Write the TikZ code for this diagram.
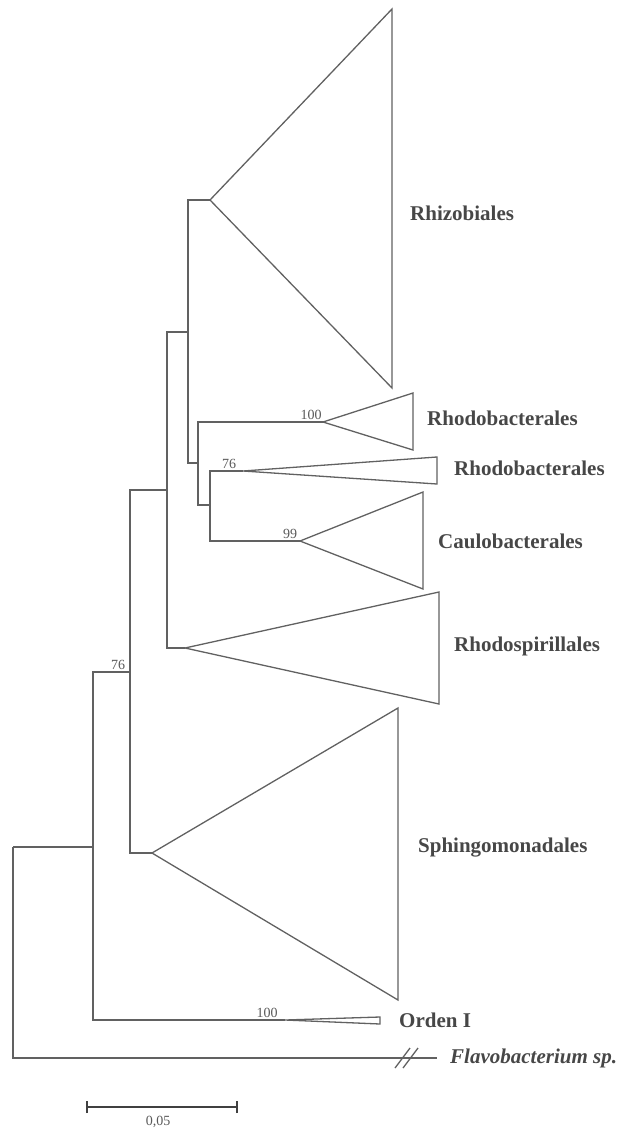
\documentclass[tikz,border=0pt]{standalone}
\usepackage{fontspec}
\setmainfont{Liberation Serif}
\begin{document}
\begin{tikzpicture}[x=1pt,y=-1pt,
  branch/.style={draw=black!62,line width=1.3pt},
  clade/.style={draw=black!62,line width=1.3pt,line join=miter},
  taxon/.style={anchor=west,inner sep=0pt,text=black!72,font=\fontsize{21}{23}\selectfont\bfseries},
  boot/.style={anchor=south,inner sep=1pt,text=black!65,font=\fontsize{14}{15}\selectfont}]
\useasboundingbox (0,0) rectangle (621,1129);
% internal nodes
\coordinate (r)  at (13,847);
\coordinate (nF) at (93,847);
\coordinate (nE) at (130,672);
\coordinate (nC) at (167,490);
\coordinate (nA) at (188,332);
\coordinate (nB) at (198,463);
\coordinate (nD) at (210,505);
% clade apices
\coordinate (aRhiz) at (210,200);
\coordinate (aRb1)  at (323,422);
\coordinate (aRb2)  at (243,471);
\coordinate (aCau)  at (300,541);
\coordinate (aRsp)  at (185,648);
\coordinate (aSph)  at (152,853);
\coordinate (aOrd)  at (285,1020);
\coordinate (fEnd)  at (437,1058);
% branches
\draw[branch] (r) |- (nF);
\draw[branch] (r) |- (fEnd);
\draw[branch] (nF) |- (nE);
\draw[branch] (nF) |- (aOrd);
\draw[branch] (nE) |- (nC);
\draw[branch] (nE) |- (aSph);
\draw[branch] (nC) |- (nA);
\draw[branch] (nC) |- (aRsp);
\draw[branch] (nA) |- (aRhiz);
\draw[branch] (nA) |- (nB);
\draw[branch] (nB) |- (aRb1);
\draw[branch] (nB) |- (nD);
\draw[branch] (nD) |- (aRb2);
\draw[branch] (nD) |- (aCau);
% collapsed clades
\draw[clade] (aRhiz) -- (392,9) -- (392,388) -- cycle;
\draw[clade] (aRb1) -- (413,393) -- (413,450) -- cycle;
\draw[clade] (aRb2) -- (437,457) -- (437,484) -- cycle;
\draw[clade] (aCau) -- (423,492) -- (423,589) -- cycle;
\draw[clade] (aRsp) -- (439,592) -- (439,704) -- cycle;
\draw[clade] (aSph) -- (398,708) -- (398,1000) -- cycle;
\draw[clade] (aOrd) -- (380,1017) -- (380,1024) -- cycle;
% break marks
\draw[branch] (395,1068) -- (410,1048);
\draw[branch] (403,1068) -- (418,1048);
% taxon labels
\node[taxon] (tRhiz) at (410,213) {Rhizobiales};
\node[taxon] (tRb1)  at (427,418) {Rhodobacterales};
\node[taxon] (tRb2)  at (454,468) {Rhodobacterales};
\node[taxon] (tCau)  at (438,541) {Caulobacterales};
\node[taxon] (tRsp)  at (454,646) {Rhodospirillales};
\node[taxon] (tSph)  at (418,848) {Sphingomonadales};
\node[taxon] (tOrd)  at (399,1020) {Orden I};
\node[taxon,font=\fontsize{21}{23}\selectfont\bfseries\itshape] (tFla) at (450,1058) {Flavobacterium sp.};
% bootstrap values
\node[boot] (b1) at (311,421) {100};
\node[boot] (b2) at (229,470) {76};
\node[boot] (b3) at (290,540) {99};
\node[boot] (b4) at (118,671) {76};
\node[boot] (b5) at (267,1019) {100};
% scale bar
\coordinate (s1) at (87,1107);
\coordinate (s2) at (237,1107);
\draw[branch,draw=black!75,line width=1.8pt] (s1) -- (s2);
\draw[branch,draw=black!75,line width=1.8pt] ([yshift=-6pt]s1) -- ([yshift=6pt]s1);
\draw[branch,draw=black!75,line width=1.8pt] ([yshift=-6pt]s2) -- ([yshift=6pt]s2);
\node[boot,anchor=center] (sl) at (158,1122) {0,05};
\end{tikzpicture}
\end{document}
